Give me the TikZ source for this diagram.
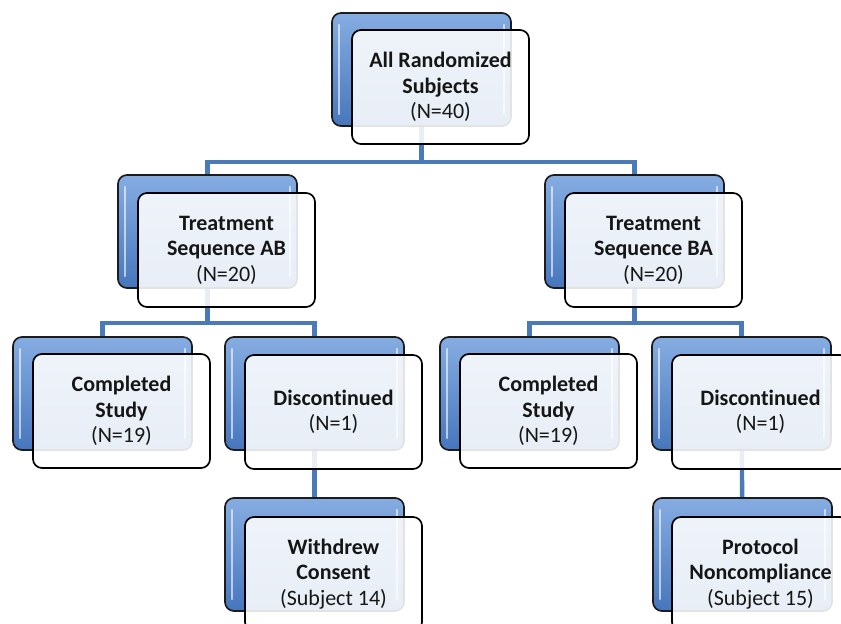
\documentclass[tikz,border=0pt]{standalone}
\usepackage{fontspec}
\setmainfont[Ligatures={NoCommon}]{Carlito}
\pgfdeclarelayer{bg}
\pgfsetlayers{bg,main}
\definecolor{boxline}{HTML}{1C1C1C}
\definecolor{bluetop}{HTML}{86ADE2}
\definecolor{bluebot}{HTML}{4676BC}
\definecolor{connblue}{HTML}{4A7AB8}
\definecolor{txt}{HTML}{161616}
\begin{document}
\begin{tikzpicture}[x=1pt,y=1pt,
  backbox/.style={rectangle, draw=boxline, line width=1.7pt, rounded corners=9pt,
    minimum width=179pt, minimum height=113pt, inner sep=0pt,
    top color=bluetop, bottom color=bluebot,
    path picture={
      \draw[white, opacity=0.6, line width=2.4pt, line cap=round]
        ([xshift=7pt,yshift=-12pt]path picture bounding box.north west) --
        ([xshift=7pt,yshift=12pt]path picture bounding box.south west);
      \draw[white, opacity=0.6, line width=2.4pt, line cap=round]
        ([xshift=-7pt,yshift=-12pt]path picture bounding box.north east) --
        ([xshift=-7pt,yshift=12pt]path picture bounding box.south east);
    }},
  frontbox/.style={rectangle, draw=black, line width=1.7pt, rounded corners=9pt,
    fill=white, fill opacity=0.88, text opacity=1, text=txt,
    minimum width=177pt, minimum height=114pt, inner sep=2pt,
    align=center, font=\fontsize{22}{25.5}\selectfont, anchor=north west,
    execute at begin node={\rule{0pt}{22pt}}},
  conn/.style={draw=connblue, line width=4.4pt}
]
\useasboundingbox (0,0) rectangle (841,624);
\clip (0,0) rectangle (841,624);

% level 1
\node[backbox] (topB) at (421.5,554.5) {};
\node[frontbox] (topF) at ([xshift=20pt,yshift=-17pt]topB.north west)
  {\textbf{All Randomized}\\\textbf{Subjects}\\(N=40)};

% level 2
\node[backbox] (abB) at (207.5,392.5) {};
\node[frontbox] (abF) at ([xshift=20pt,yshift=-18pt]abB.north west)
  {\textbf{Treatment}\\\textbf{Sequence AB}\\(N=20)};
\node[backbox] (baB) at (634.5,392.5) {};
\node[frontbox] (baF) at ([xshift=20pt,yshift=-18pt]baB.north west)
  {\textbf{Treatment}\\\textbf{Sequence BA}\\(N=20)};

% level 3
\node[backbox] (compAB) at (102.5,230.5) {};
\node[frontbox] (compABF) at ([xshift=20pt,yshift=-17pt]compAB.north west)
  {\textbf{Completed}\\\textbf{Study}\\(N=19)};
\node[backbox] (discAB) at (314.5,230.5) {};
\node[frontbox] (discABF) at ([xshift=20pt,yshift=-18pt]discAB.north west)
  {\textbf{Discontinued}\\(N=1)};
\node[backbox] (compBA) at (529.5,230.5) {};
\node[frontbox] (compBAF) at ([xshift=20pt,yshift=-17pt]compBA.north west)
  {\textbf{Completed}\\\textbf{Study}\\(N=19)};
\node[backbox] (discBA) at (741.5,230.5) {};
\node[frontbox] (discBAF) at ([xshift=20pt,yshift=-18pt]discBA.north west)
  {\textbf{Discontinued}\\(N=1)};

% level 4
\node[backbox] (wdB) at (314.5,69.5) {};
\node[frontbox] (wdF) at ([xshift=20pt,yshift=-19pt]wdB.north west)
  {\textbf{Withdrew}\\\textbf{Consent}\\(Subject 14)};
\node[backbox] (pcB) at (742.5,69.5) {};
\node[frontbox] (pcF) at ([xshift=19pt,yshift=-19pt]pcB.north west)
  {\textbf{Protocol}\\\textbf{Noncompliance}\\(Subject 15)};

% connectors, drawn beneath the boxes
\coordinate (busA) at (0,462);
\coordinate (busB) at (0,301);
\begin{pgfonlayer}{bg}
  \draw[conn] (topB.center) -- (topB.center |- busA) -| (abB.center);
  \draw[conn] (topB.center |- busA) -| (baB.center);
  \draw[conn] (abB.center) -- (abB.center |- busB) -| (compAB.center);
  \draw[conn] (abB.center |- busB) -| (discAB.center);
  \draw[conn] (baB.center) -- (baB.center |- busB) -| (compBA.center);
  \draw[conn] (baB.center |- busB) -| (discBA.center);
  \draw[conn] (discAB.center) -- (wdB.center);
  \draw[conn] (discBA.center) -- (pcB.center);
\end{pgfonlayer}
\end{tikzpicture}
\end{document}
